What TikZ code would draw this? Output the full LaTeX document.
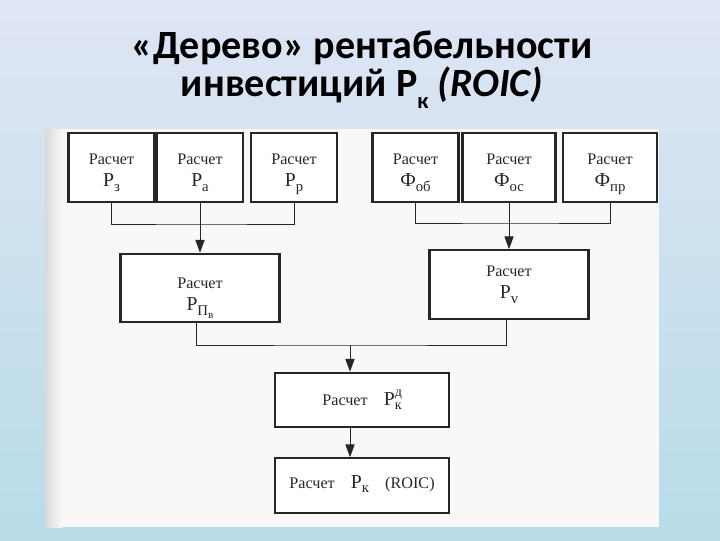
\documentclass[tikz,border=0pt]{standalone}
\usepackage{amsmath}
\usepackage{fontspec}
\setmainfont{Liberation Serif}
\newfontfamily\titlefont{Carlito}
\usetikzlibrary{arrows.meta, positioning}
\definecolor{slidetop}{HTML}{DFE5F4}
\definecolor{slidebot}{HTML}{B8DCE8}
\definecolor{paper}{HTML}{F8F8F6}
\definecolor{ink}{HTML}{262626}
% big letter with lowered index, as in the scan
\newcommand{\bigP}[2]{{\fontsize{14}{16}\selectfont #1}\raisebox{-0.6ex}{\fontsize{10.5}{12}\selectfont #2\vphantom{р}}}
% first word, pushed down inside the box
\newcommand{\calcword}[1]{\rule{0pt}{#1}Расчет}
\tikzset{
  every node/.style={font=\fontsize{11.5}{16}\selectfont, text=ink},
  calc/.style  = {rectangle, draw=ink, line width=1.6pt, fill=white,
                  inner sep=2pt, align=center},
  top/.style   = {calc, minimum width=2.15cm, minimum height=1.72cm},
  mid/.style   = {calc, minimum width=3.97cm, minimum height=1.71cm},
  low/.style   = {calc, minimum width=4.35cm, minimum height=1.36cm},
  link/.style  = {draw=ink, line width=0.7pt},
  arrow/.style = {link, -{Triangle[length=3.2mm,width=2.3mm]}},
  title/.style = {font=\titlefont\bfseries\fontsize{28.5}{27}\selectfont,
                  text=black, align=center},
}

\begin{document}
\begin{tikzpicture}[x=0.025cm, y=-0.025cm]
  % ---- slide background ----
  \shade[top color=slidetop, bottom color=slidebot] (0,0) rectangle (720,540);
  \useasboundingbox (0,0) rectangle (720,540);
  \fill[paper] (45,129) rectangle (659,527);
  \shade[left color=gray!30, right color=paper] (45,129) rectangle (62,527);

  % ---- title ----
  \node[title] (head) at (362,70)
    {«Дерево» рентабельности\\инвестиций
     Р\raisebox{-0.6ex}{\fontsize{16}{16}\selectfont к} \textit{(ROIC)}};

  % ---- top row: profitability components ----
  \node[top] (pz)  at (111.5,167.5) {\calcword{17pt}\\\bigP{Р}{з}};
  \node[top] (pa)  at (200,167.5)   {\calcword{17pt}\\\bigP{Р}{а}};
  \node[top] (pp)  at (294,167.5)   {\calcword{17pt}\\\bigP{Р}{р}};

  % ---- top row: turnover components ----
  \node[top] (fob) at (415.5,167.5) {\calcword{17pt}\\\bigP{Ф}{об}};
  \node[top, minimum width=2.32cm] (fos) at (509,167.5) {\calcword{17pt}\\\bigP{Ф}{ос}};
  \node[top, minimum width=2.35cm] (fpr) at (610,167.5) {\calcword{17pt}\\\bigP{Ф}{пр}};

  % ---- middle row ----
  \node[mid] (ppv) at (200,288)
    {\calcword{22pt}\\\bigP{Р}{П\raisebox{-0.5ex}{\fontsize{8}{9}\selectfont в}}};
  \node[mid] (pv)  at (509,284.5) {\calcword{10pt}\\\bigP{Р}{v}};

  % ---- bottom rows ----
  \node[low] (pkd) at (362,400)
    {Расчет\quad {\fontsize{14}{16}\selectfont Р}\rlap{\raisebox{1.1ex}{\fontsize{10}{11}\selectfont д}}\raisebox{-0.6ex}{\fontsize{10}{11}\selectfont к}};
  \node[low] (pk)  at (362,485.5) {Расчет\quad \bigP{Р}{к}\quad (ROIC)};

  % ---- junctions ----
  \coordinate (busl) at (200,224);
  \coordinate (busr) at (509,223);
  \coordinate (busm) at (350,345);

  % ---- first level ----
  \draw[link]  (pz.south) |- (busl) -| (pp.south);
  \draw[arrow] (pa) -- (ppv);
  \draw[link]  (fob.south) |- (busr) -| (fpr.south);
  \draw[arrow] (fos) -- (pv);

  % ---- second level ----
  \draw[link]  (ppv.south -| 196,0) |- (busm) -| (pv.south -| 506,0);
  \draw[arrow] (busm) -- (pkd.north -| busm);
  \draw[arrow] (pkd.south -| busm) -- (pk.north -| busm);
\end{tikzpicture}
\end{document}
